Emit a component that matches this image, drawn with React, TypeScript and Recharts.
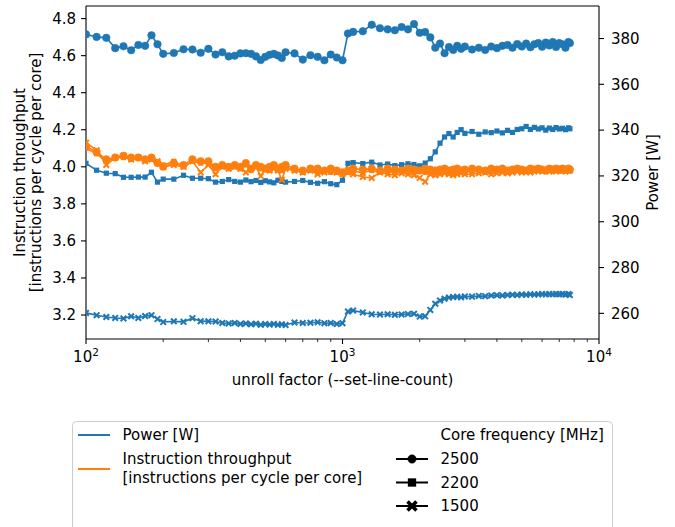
import React from "react";
import { ComposedChart, Line, XAxis, YAxis, ReferenceLine } from "recharts";

const xValues = [
  100, 110, 120, 130, 140, 150, 160, 170, 180, 190, 200,
  220, 240, 260, 280, 300, 320, 340, 360, 380, 400, 420, 440, 460, 480, 500, 520, 540, 560, 580, 600,
  650, 700, 750, 800, 850, 900, 950, 1000,
  1050, 1100, 1200, 1300, 1400, 1500, 1600, 1700, 1800, 1900, 2000, 2100, 2200, 2300, 2400, 2500, 2600, 2700, 2800, 2900, 3000,
  3200, 3400, 3600, 3800, 4000, 4200, 4400, 4600, 4800, 5000, 5200, 5400, 5600, 5800, 6000, 6200, 6400, 6600, 6800, 7000, 7200, 7400, 7600,
  7700,
];

// Power [W] (right axis)
const power2500 = [
  381.8, 380.7, 380.3, 375.8, 376.6, 374.9, 377.2, 376.8, 381.4, 377.5, 373.3,
  373.7, 375.3, 375.2, 373.8, 375.5, 373.0, 374.0, 372.2, 372.5, 373.5, 373.6, 373.3, 372.2, 370.6, 372.0, 372.9, 373.3, 372.6, 371.5, 374.0,
  373.5, 370.8, 372.7, 372.0, 370.5, 373.0, 371.7, 370.5,
  382.2, 382.9, 383.2, 386.0, 384.5, 384.0, 383.6, 385.0, 384.0, 386.3, 382.5, 382.8, 380.5, 376.0, 377.8, 373.6, 376.3, 375.0, 376.8, 375.5, 376.5,
  375.2, 376.0, 375.0, 376.5, 375.8, 376.8, 377.2, 376.0, 377.6, 376.5, 377.8, 376.2, 377.5, 378.0, 376.4, 378.2, 377.0, 378.5, 376.3, 378.0, 377.5, 376.0, 378.5,
  378.0,
];
const power2200 = [
  325.5, 322.5, 321.2, 321.0, 319.4, 319.4, 319.5, 319.5, 321.6, 317.3, 318.6,
  318.6, 320.3, 319.0, 319.0, 318.8, 317.3, 317.6, 318.4, 317.6, 317.3, 318.2, 317.5, 318.0, 317.2, 317.9, 317.4, 317.0, 318.1, 317.6, 317.3,
  317.6, 318.0, 317.2, 316.8, 317.5, 316.6, 316.2, 318.1,
  325.5, 325.8, 325.4, 326.0, 324.8, 325.2, 324.5, 324.9, 325.3, 325.0, 324.4, 325.6, 327.5, 330.5, 334.3, 337.0, 338.5, 337.0, 339.0, 340.2, 338.6,
  339.4, 338.2, 339.2, 338.9, 339.6, 338.8, 339.9, 339.0, 340.3, 340.6, 341.6, 340.3, 341.2, 340.5, 341.0, 340.0, 340.9, 340.3, 341.1, 340.5, 340.8, 340.2, 341.0,
  340.6,
];
const power1500 = [
  260.2, 259.2, 258.4, 258.0, 257.8, 258.7, 258.0, 258.8, 259.2, 257.5, 256.2,
  256.5, 256.3, 257.9, 256.6, 256.5, 256.4, 255.8, 255.6, 255.8, 255.4, 255.6, 255.2, 255.5, 255.0, 255.3, 255.1, 255.4, 255.0, 255.2, 254.9,
  256.0, 255.8, 255.9, 256.1, 255.7, 255.8, 255.4, 255.7,
  260.8, 261.2, 260.4, 259.6, 259.5, 259.6, 259.4, 259.5, 259.7, 259.8, 258.6, 258.7, 261.5, 264.2, 265.6, 266.4, 266.9, 267.1, 267.2, 267.0, 267.4,
  267.3, 267.6, 267.5, 267.8, 267.9, 267.8, 268.0, 268.1, 268.0, 268.2, 268.1, 268.3, 268.2, 268.3, 268.4, 268.3, 268.4, 268.3, 268.4, 268.3, 268.4, 268.2, 268.4,
  268.0,
];

// Instruction throughput (left axis)
const ipc2500 = [
  4.11, 4.08, 4.04, 4.05, 4.06, 4.05, 4.05, 4.04, 4.05, 4.02, 4.0,
  4.02, 4.01, 4.04, 4.03, 4.03, 4.0, 4.01, 4.0, 4.01, 4.0, 4.02, 3.99, 4.01, 4.0, 3.99, 4.0, 4.01, 3.99, 4.0, 4.01,
  3.99, 3.98, 3.99, 3.99, 3.98, 3.99, 3.98, 3.97,
  3.98, 3.99, 3.985, 3.99, 3.98, 3.99, 3.985, 3.98, 3.99, 3.985, 3.98, 3.99, 3.985, 3.98, 3.985, 3.99, 3.98, 3.985, 3.99, 3.98, 3.985,
  3.99, 3.985, 3.98, 3.99, 3.985, 3.99, 3.98, 3.985, 3.99, 3.985, 3.98, 3.99, 3.985, 3.99, 3.985, 3.98, 3.99, 3.985, 3.99, 3.985, 3.99, 3.985, 3.99,
  3.985,
];
const ipc2200 = [
  4.1, 4.07, 4.03, 4.05, 4.05, 4.04, 4.05, 4.04, 4.04, 4.02, 4.01,
  4.03, 4.0, 4.03, 4.02, 4.02, 3.99, 4.0, 3.99, 4.0, 3.99, 4.01, 3.98, 4.0, 3.99, 3.99, 3.98, 4.0, 3.99, 3.98, 4.0,
  3.98, 3.97, 3.98, 3.97, 3.98, 3.97, 3.97, 3.96,
  3.97, 3.975, 3.97, 3.98, 3.97, 3.975, 3.97, 3.98, 3.975, 3.97, 3.975, 3.97, 3.965, 3.975, 3.97, 3.98, 3.975, 3.97, 3.975, 3.98, 3.975,
  3.975, 3.98, 3.97, 3.975, 3.98, 3.975, 3.98, 3.975, 3.98, 3.985, 3.975, 3.98, 3.985, 3.98, 3.985, 3.98, 3.985, 3.98, 3.985, 3.98, 3.985, 3.98, 3.985,
  3.98,
];
const ipc1500 = [
  4.13, 4.09, 4.01, 4.05, 4.06, 4.04, 4.05, 4.03, 4.04, 4.03, 4.0,
  4.01, 4.0, 4.03, 3.97, 4.01, 3.96, 4.0, 3.99, 4.0, 3.99, 3.97, 3.99, 4.0, 3.95, 3.99, 3.98, 3.99, 3.98, 3.93, 3.99,
  3.98, 3.97, 3.98, 3.96, 3.97, 3.98, 3.97, 3.96,
  3.97, 3.96, 3.945, 3.94, 3.97, 3.96, 3.955, 3.965, 3.96, 3.955, 3.94, 3.92, 3.96, 3.955, 3.96, 3.965, 3.96, 3.955, 3.96, 3.965, 3.96,
  3.96, 3.965, 3.97, 3.96, 3.965, 3.97, 3.965, 3.97, 3.975, 3.97, 3.975, 3.97, 3.975, 3.98, 3.975, 3.98, 3.975, 3.98, 3.975, 3.98, 3.98, 3.975, 3.98,
  3.98,
];

const xMajorTicks = [100, 1000, 10000];
const xMinorTicks = [200, 300, 400, 500, 600, 700, 800, 900, 2000, 3000, 4000, 5000, 6000, 7000, 8000, 9000];
const leftTicks = [3.2, 3.4, 3.6, 3.8, 4.0, 4.2, 4.4, 4.6, 4.8];
const rightTicks = [260, 280, 300, 320, 340, 360, 380];
const frequencies = ["2500", "2200", "1500"];

const BLUE = "#1f77b4";
const ORANGE = "#ff7f0e";
const FONT = "'DejaVu Sans', sans-serif";

const data = xValues.map((x, i) => ({
  x,
  p2500: power2500[i],
  p2200: power2200[i],
  p1500: power1500[i],
  i2500: ipc2500[i],
  i2200: ipc2200[i],
  i1500: ipc1500[i],
}));

const allXTicks = [...xMajorTicks, ...xMinorTicks].sort((a, b) => a - b);

function Marker({ shape, cx, cy, color, scale = 1, xWidth = 2 }: any) {
  if (cx == null || cy == null || isNaN(cx) || isNaN(cy)) return <g />;
  if (shape === "circle") return <circle cx={cx} cy={cy} r={3.8 * scale} fill={color} stroke={color} strokeWidth={0.5} />;
  if (shape === "square") {
    const s = 5.2 * scale;
    return <rect x={cx - s / 2} y={cy - s / 2} width={s} height={s} fill={color} />;
  }
  const h = 2.8 * scale;
  return (
    <path
      d={`M${cx - h},${cy - h}L${cx + h},${cy + h}M${cx - h},${cy + h}L${cx + h},${cy - h}`}
      stroke={color}
      strokeWidth={xWidth}
      fill="none"
    />
  );
}

const makeDot = (shape: string, color: string) => (props: any) => (
  <Marker key={`${shape}-${color}-${props.index}`} shape={shape} cx={props.cx} cy={props.cy} color={color} />
);

function XTick(props: any) {
  const { x, y, payload } = props;
  const v = payload.value;
  const major = xMajorTicks.includes(v);
  const exp = Math.round(Math.log10(v));
  return (
    <g>
      <line x1={x} x2={x} y1={y} y2={y + (major ? 5 : 3)} stroke="#000" strokeWidth={major ? 1.1 : 0.8} />
      {major && (
        <text x={x} y={y + 23} textAnchor="middle" fontSize={15} fontFamily={FONT} fill="#000">
          10
          <tspan dy={-6} fontSize={10.5}>
            {exp}
          </tspan>
        </text>
      )}
    </g>
  );
}

export default function App() {
  const tickStyle = { fill: "#000", fontSize: 15, fontFamily: FONT };
  return (
    <div style={{ position: "absolute", left: 0, top: 0, width: 675, height: 527, background: "#fff" }}>
      <ComposedChart
        width={675}
        height={400}
        data={data}
        margin={{ top: 6, right: 26, bottom: 31, left: 26 }}
        style={{ fontFamily: FONT }}
      >
        <XAxis
          xAxisId="x"
          dataKey="x"
          type="number"
          scale="log"
          domain={[100, 10000]}
          allowDataOverflow
          ticks={allXTicks}
          interval={0}
          tickLine={false}
          tickSize={0}
          tickMargin={0}
          tick={<XTick />}
          height={30}
          axisLine={{ stroke: "#000", strokeWidth: 1.1 }}
        />
        <YAxis
          yAxisId="left"
          orientation="left"
          width={60}
          type="number"
          domain={[3.0706, 4.868]}
          allowDataOverflow
          ticks={leftTicks}
          interval={0}
          tickFormatter={(v: number) => v.toFixed(1)}
          tickSize={5}
          tickMargin={5}
          tick={tickStyle}
          tickLine={{ stroke: "#000", strokeWidth: 1.1 }}
          axisLine={{ stroke: "#000", strokeWidth: 1.1 }}
        />
        <YAxis
          yAxisId="right"
          orientation="right"
          width={50}
          type="number"
          domain={[248.8, 394.2]}
          allowDataOverflow
          ticks={rightTicks}
          interval={0}
          tickSize={5}
          tickMargin={7}
          tick={tickStyle}
          tickLine={{ stroke: "#000", strokeWidth: 1.1 }}
          axisLine={{ stroke: "#000", strokeWidth: 1.1 }}
        />
        <ReferenceLine xAxisId="x" yAxisId="left" y={4.868} stroke="#000" strokeWidth={1.1} ifOverflow="extendDomain" />

        <Line xAxisId="x" yAxisId="right" dataKey="p1500" stroke={BLUE} strokeWidth={1.6} dot={makeDot("x", BLUE)} activeDot={false} isAnimationActive={false} />
        <Line xAxisId="x" yAxisId="right" dataKey="p2200" stroke={BLUE} strokeWidth={1.6} dot={makeDot("square", BLUE)} activeDot={false} isAnimationActive={false} />
        <Line xAxisId="x" yAxisId="right" dataKey="p2500" stroke={BLUE} strokeWidth={1.6} dot={makeDot("circle", BLUE)} activeDot={false} isAnimationActive={false} />
        <Line xAxisId="x" yAxisId="left" dataKey="i1500" stroke={ORANGE} strokeWidth={1.6} dot={makeDot("x", ORANGE)} activeDot={false} isAnimationActive={false} />
        <Line xAxisId="x" yAxisId="left" dataKey="i2200" stroke={ORANGE} strokeWidth={1.6} dot={makeDot("square", ORANGE)} activeDot={false} isAnimationActive={false} />
        <Line xAxisId="x" yAxisId="left" dataKey="i2500" stroke={ORANGE} strokeWidth={1.6} dot={makeDot("circle", ORANGE)} activeDot={false} isAnimationActive={false} />
      </ComposedChart>

      <svg
        width={675}
        height={527}
        style={{ position: "absolute", left: 0, top: 0, pointerEvents: "none" }}
        fontFamily={FONT}
        fontSize={15}
        fill="#000"
      >
        <text transform="translate(25,172.5) rotate(-90)" textAnchor="middle">Instruction throughput</text>
        <text transform="translate(41,172.5) rotate(-90)" textAnchor="middle">[instructions per cycle per core]</text>
        <text transform="translate(658,172.5) rotate(-90)" textAnchor="middle">Power [W]</text>
        <text x={342.5} y={385} textAnchor="middle">unroll factor (--set-line-count)</text>

        <rect x={72.5} y={421.5} width={540} height={130} rx={4} ry={4} fill="#fff" fillOpacity={0.8} stroke="#cccccc" strokeWidth={1} />
        <line x1={78} x2={110} y1={435} y2={435} stroke={BLUE} strokeWidth={2} />
        <text x={122.5} y={435} dominantBaseline="central">Power [W]</text>
        <line x1={78} x2={110} y1={469} y2={469} stroke={ORANGE} strokeWidth={2} />
        <text x={122.5} y={459} dominantBaseline="central">Instruction throughput</text>
        <text x={122.5} y={478} dominantBaseline="central">[instructions per cycle per core]</text>

        <text x={440.5} y={435} dominantBaseline="central">Core frequency [MHz]</text>
        {frequencies.map((f, k) => {
          const cy = 459 + k * 23.5;
          const shape = k === 0 ? "circle" : k === 1 ? "square" : "x";
          return (
            <g key={f}>
              <line x1={396} x2={428} y1={cy} y2={cy} stroke="#000" strokeWidth={2} />
              <Marker shape={shape} cx={412} cy={cy} color="#000" scale={k === 0 ? 1.1 : 1.6} xWidth={3.6} />
              <text x={440.5} y={cy} dominantBaseline="central">{f}</text>
            </g>
          );
        })}
      </svg>
    </div>
  );
}
